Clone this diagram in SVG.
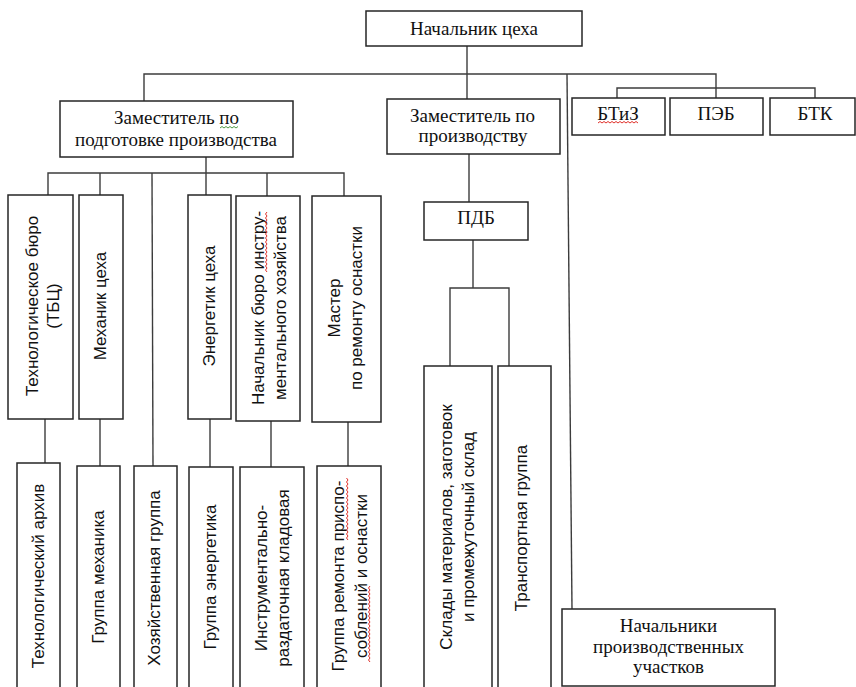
<svg xmlns="http://www.w3.org/2000/svg" width="856" height="687" viewBox="0 0 856 687">
  <style>
    .box { fill: #fff; stroke: #262626; stroke-width: 1.5; }
    .ln { fill: none; stroke: #3c3c3c; stroke-width: 1.4; }
    .h { font-family: "Liberation Serif", "Times New Roman", serif; font-size: 19px; fill: #111; text-anchor: middle; }
    .v { font-family: "Liberation Sans", Arial, sans-serif; font-size: 17px; fill: #111; text-anchor: middle; }
    .sq-r { fill: none; stroke: #e0302a; stroke-width: 1; }
    .sq-g { fill: none; stroke: #4f9a45; stroke-width: 1; }
  </style>

  <!-- connectors -->
  <g id="connectors" class="ln">
    <path d="M467 46 V99"/>
    <path d="M144 101 V74 H716 V98"/>
    <path d="M617 98 V88 H815 V98"/>
    <path d="M567 74 L572 609"/>
    <path d="M206 157 V195"/>
    <path d="M48 195 V173 H344 V196"/>
    <path d="M100 173 V195"/>
    <path d="M152 173 L153 466"/>
    <path d="M267 173 V196"/>
    <path d="M45 419 V463"/>
    <path d="M100 419 V466"/>
    <path d="M210 419 V467"/>
    <path d="M271 421 V467"/>
    <path d="M348 422 V466"/>
    <path d="M469 154 V202"/>
    <path d="M473 240 V288"/>
    <path d="M450 366 V288 H509 V366"/>
  </g>

  <!-- top level -->
  <g id="head">
    <rect class="box" x="366" y="11" width="216" height="35"/>
    <text class="h" x="474" y="35">Начальник цеха</text>
  </g>
  <g id="deputy-prep">
    <rect class="box" x="60" y="101" width="233" height="56"/>
    <text class="h" x="176.5" y="124">Заместитель по</text>
    <text class="h" x="176" y="146">подготовке производства</text>
  </g>
  <g id="deputy-prod">
    <rect class="box" x="387" y="99" width="173" height="55"/>
    <text class="h" x="472.5" y="122">Заместитель по</text>
    <text class="h" x="473" y="142">производству</text>
  </g>
  <g id="btiz">
    <rect class="box" x="572" y="98" width="93" height="37"/>
    <text class="h" x="618" y="120">БТиЗ</text>
  </g>
  <g id="peb">
    <rect class="box" x="670" y="98" width="93" height="37"/>
    <text class="h" x="716" y="120">ПЭБ</text>
  </g>
  <g id="btk">
    <rect class="box" x="770" y="98" width="85" height="37"/>
    <text class="h" x="815" y="120">БТК</text>
  </g>
  <g id="pdb">
    <rect class="box" x="424" y="202" width="104" height="38"/>
    <text class="h" x="476" y="224">ПДБ</text>
  </g>

  <!-- services under the preparation deputy -->
  <g id="tech-bureau">
    <rect class="box" x="8" y="195" width="65" height="224"/>
    <text class="v" transform="translate(40.5 306) rotate(-90)"><tspan x="0" y="-3">Технологическое бюро</tspan><tspan x="0" y="18.5">(ТБЦ)</tspan></text>
  </g>
  <g id="mechanic">
    <rect class="box" x="79" y="195" width="44" height="224"/>
    <text class="v" transform="translate(101 306) rotate(-90)"><tspan x="0" y="4.5">Механик цеха</tspan></text>
  </g>
  <g id="power-engineer">
    <rect class="box" x="188" y="195" width="43" height="224"/>
    <text class="v" transform="translate(209.5 306) rotate(-90)"><tspan x="0" y="5.5">Энергетик цеха</tspan></text>
  </g>
  <g id="tool-bureau">
    <rect class="box" x="236" y="196" width="64" height="225"/>
    <text class="v" transform="translate(268 308) rotate(-90)"><tspan x="0" y="-4">Начальник бюро инстру-</tspan><tspan x="0" y="18">ментального хозяйства</tspan></text>
  </g>
  <g id="tooling-master">
    <rect class="box" x="312" y="196" width="69" height="226"/>
    <text class="v" transform="translate(346.5 308) rotate(-90)"><tspan x="0" y="-6.5">Мастер</tspan><tspan x="0" y="15.5">по ремонту оснастки</tspan></text>
  </g>

  <!-- groups -->
  <g id="tech-archive">
    <rect class="box" x="17" y="463" width="43" height="240"/>
    <text class="v" transform="translate(38.5 576) rotate(-90)"><tspan x="0" y="5.5">Технологический архив</tspan></text>
  </g>
  <g id="mechanic-group">
    <rect class="box" x="77" y="466" width="43" height="240"/>
    <text class="v" transform="translate(98.5 577) rotate(-90)"><tspan x="0" y="5.5">Группа механика</tspan></text>
  </g>
  <g id="utility-group">
    <rect class="box" x="134" y="466" width="43" height="240"/>
    <text class="v" transform="translate(155.5 578) rotate(-90)"><tspan x="0" y="4">Хозяйственная группа</tspan></text>
  </g>
  <g id="power-group">
    <rect class="box" x="189" y="467" width="44" height="240"/>
    <text class="v" transform="translate(211 577) rotate(-90)"><tspan x="0" y="4.5">Группа энергетика</tspan></text>
  </g>
  <g id="tool-store">
    <rect class="box" x="240" y="467" width="64" height="240"/>
    <text class="v" transform="translate(272 578) rotate(-90)"><tspan x="0" y="-5">Инструментально-</tspan><tspan x="0" y="17">раздаточная кладовая</tspan></text>
  </g>
  <g id="fixture-repair">
    <rect class="box" x="317" y="466" width="64" height="240"/>
    <text class="v" transform="translate(349 576) rotate(-90)"><tspan x="0" y="-5">Группа ремонта приспо-</tspan><tspan x="0" y="18">соблений и оснастки</tspan></text>
  </g>
  <g id="warehouses">
    <rect class="box" x="424" y="366" width="68" height="340"/>
    <text class="v" transform="translate(458 527) rotate(-90)"><tspan x="0" y="-6">Склады материалов, заготовок</tspan><tspan x="0" y="16">и промежуточный склад</tspan></text>
  </g>
  <g id="transport">
    <rect class="box" x="498" y="366" width="53" height="340"/>
    <text class="v" transform="translate(524.5 528) rotate(-90)"><tspan x="0" y="2.5">Транспортная группа</tspan></text>
  </g>
  <g id="section-heads">
    <rect class="box" x="562" y="609" width="213" height="77"/>
    <text class="h" x="668.5" y="632">Начальники</text>
    <text class="h" x="668.5" y="653">производственных</text>
    <text class="h" x="668.5" y="673">участков</text>
  </g>

  <!-- proofing underlines -->
  <g id="proof-marks">
    <path class="sq-g" d="M220 128 l2 -1.5 l2 1.5 l2 -1.5 l2 1.5 l2 -1.5 l2 1.5 l2 -1.5 l2 1.5 l2 -1.5"/>
    <path class="sq-r" d="M598 123 l2 -1.5 l2 1.5 l2 -1.5 l2 1.5 l2 -1.5 l2 1.5 l2 -1.5 l2 1.5 l2 -1.5 l2 1.5 l2 -1.5 l2 1.5 l2 -1.5 l2 1.5 l2 -1.5 l2 1.5 l2 -1.5 l2 1.5 l2 -1.5 l2 1.5"/>
    <path class="sq-r" d="M267 272 l-1.5 -2 l1.5 -2 l-1.5 -2 l1.5 -2 l-1.5 -2 l1.5 -2 l-1.5 -2 l1.5 -2 l-1.5 -2 l1.5 -2 l-1.5 -2 l1.5 -2 l-1.5 -2 l1.5 -2 l-1.5 -2 l1.5 -2 l-1.5 -2 l1.5 -2 l-1.5 -2 l1.5 -2 l-1.5 -2 l1.5 -2 l-1.5 -2 l1.5 -2 l-1.5 -2 l1.5 -2 l-1.5 -2 l1.5 -2 l-1.5 -2 l1.5 -2"/>
    <path class="sq-r" d="M348 540 l-1.5 -2 l1.5 -2 l-1.5 -2 l1.5 -2 l-1.5 -2 l1.5 -2 l-1.5 -2 l1.5 -2 l-1.5 -2 l1.5 -2 l-1.5 -2 l1.5 -2 l-1.5 -2 l1.5 -2 l-1.5 -2 l1.5 -2 l-1.5 -2 l1.5 -2 l-1.5 -2 l1.5 -2 l-1.5 -2 l1.5 -2 l-1.5 -2 l1.5 -2 l-1.5 -2 l1.5 -2 l-1.5 -2 l1.5 -2 l-1.5 -2 l1.5 -2 l-1.5 -2"/>
    <path class="sq-r" d="M370 662 l-1.5 -2 l1.5 -2 l-1.5 -2 l1.5 -2 l-1.5 -2 l1.5 -2 l-1.5 -2 l1.5 -2 l-1.5 -2 l1.5 -2 l-1.5 -2 l1.5 -2 l-1.5 -2 l1.5 -2 l-1.5 -2 l1.5 -2 l-1.5 -2 l1.5 -2 l-1.5 -2 l1.5 -2 l-1.5 -2 l1.5 -2 l-1.5 -2 l1.5 -2 l-1.5 -2 l1.5 -2 l-1.5 -2 l1.5 -2 l-1.5 -2 l1.5 -2 l-1.5 -2 l1.5 -2 l-1.5 -2 l1.5 -2 l-1.5 -2 l1.5 -2 l-1.5 -2 l1.5 -2"/>
  </g>
</svg>
